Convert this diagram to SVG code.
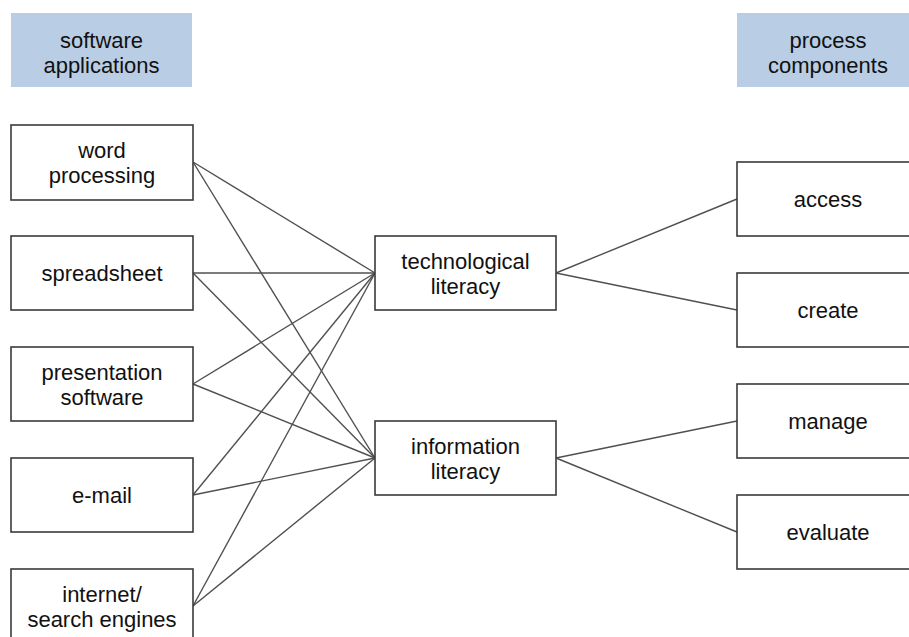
<svg xmlns="http://www.w3.org/2000/svg" width="909" height="637" viewBox="0 0 909 637">
<style>
.hdr{fill:#b9cde5;stroke:none}
.box{fill:#fff;stroke:#3a3a3a;stroke-width:1.6}
.t{font-family:"Liberation Sans",Arial,sans-serif;font-size:22px;fill:#111;text-anchor:middle}
.c line{stroke:#505050;stroke-width:1.4}
</style>
<rect width="909" height="637" fill="#fff"/>
<g id="connectors" class="c">
<line x1="193" y1="162" x2="375" y2="273"/>
<line x1="193" y1="162" x2="375" y2="458"/>
<line x1="193" y1="273" x2="375" y2="273"/>
<line x1="193" y1="273" x2="375" y2="458"/>
<line x1="193" y1="384" x2="375" y2="273"/>
<line x1="193" y1="384" x2="375" y2="458"/>
<line x1="193" y1="495" x2="375" y2="273"/>
<line x1="193" y1="495" x2="375" y2="458"/>
<line x1="193" y1="606" x2="375" y2="273"/>
<line x1="193" y1="606" x2="375" y2="458"/>
<line x1="556" y1="273" x2="737" y2="199"/>
<line x1="556" y1="273" x2="737" y2="310"/>
<line x1="556" y1="458" x2="737" y2="421"/>
<line x1="556" y1="458" x2="737" y2="532"/>
</g>
<g id="hdr-software">
<rect class="hdr" x="11" y="13" width="181" height="74"/>
<text class="t" x="101.5" y="48">software</text>
<text class="t" x="101.5" y="73">applications</text>
</g>
<g id="hdr-process">
<rect class="hdr" x="737" y="13" width="180" height="74"/>
<text class="t" x="828" y="48">process</text>
<text class="t" x="828" y="73">components</text>
</g>
<g id="word">
<rect class="box" x="11" y="125" width="182" height="75"/>
<text class="t" x="102" y="158">word</text>
<text class="t" x="102" y="183">processing</text>
</g>
<g id="spreadsheet">
<rect class="box" x="11" y="236" width="182" height="74"/>
<text class="t" x="102" y="281">spreadsheet</text>
</g>
<g id="presentation">
<rect class="box" x="11" y="347" width="182" height="74"/>
<text class="t" x="102" y="380">presentation</text>
<text class="t" x="102" y="405">software</text>
</g>
<g id="email">
<rect class="box" x="11" y="458" width="182" height="74"/>
<text class="t" x="102" y="503">e-mail</text>
</g>
<g id="internet">
<rect class="box" x="11" y="569" width="182" height="75"/>
<text class="t" x="102" y="602">internet/</text>
<text class="t" x="102" y="627">search engines</text>
</g>
<g id="tech">
<rect class="box" x="375" y="236" width="181" height="74"/>
<text class="t" x="465.5" y="269">technological</text>
<text class="t" x="465.5" y="294">literacy</text>
</g>
<g id="info">
<rect class="box" x="375" y="421" width="181" height="74"/>
<text class="t" x="465.5" y="454">information</text>
<text class="t" x="465.5" y="479">literacy</text>
</g>
<g id="access">
<rect class="box" x="737" y="162" width="180" height="74"/>
<text class="t" x="828" y="207">access</text>
</g>
<g id="create">
<rect class="box" x="737" y="273" width="180" height="74"/>
<text class="t" x="828" y="318">create</text>
</g>
<g id="manage">
<rect class="box" x="737" y="384" width="180" height="74"/>
<text class="t" x="828" y="429">manage</text>
</g>
<g id="evaluate">
<rect class="box" x="737" y="495" width="180" height="74"/>
<text class="t" x="828" y="540">evaluate</text>
</g>
</svg>
